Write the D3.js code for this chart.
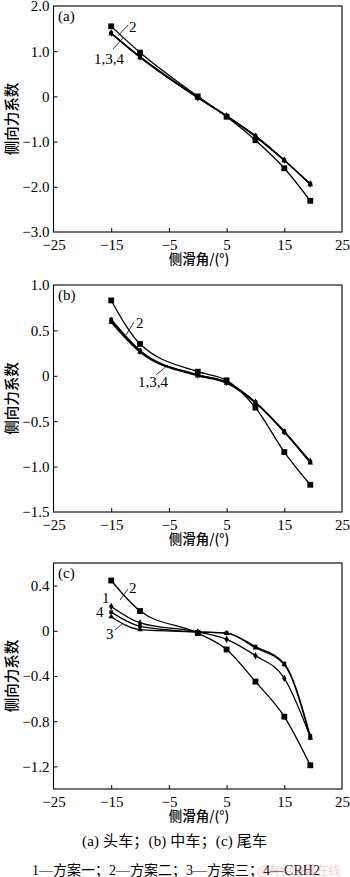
<!DOCTYPE html>
<html><head><meta charset="utf-8">
<script src="https://cdn.jsdelivr.net/npm/d3@7"></script>
<style>
html,body{margin:0;padding:0;background:#fff;}
svg{display:block;font-family:"Liberation Serif","Noto Sans CJK SC",serif;}
</style></head><body>
<svg id="c" width="350" height="877"></svg>
<script>
// ---- data ----
const angles = [-15, -10, 0, 5, 10, 15, 19.5];
const xTicks = [-25, -15, -5, 5, 15, 25];

const aS1 = [1.40, 0.87, -0.03, -0.43, -0.88, -1.41, -1.94];
const aS2 = [1.55, 0.97, 0.00, -0.45, -0.97, -1.59, -2.31];
const aS3 = [1.39, 0.86, -0.03, -0.44, -0.89, -1.42, -1.95];
const aS4 = [1.40, 0.88, -0.02, -0.43, -0.87, -1.41, -1.93];
const aTicks = [2.0, 1.0, 0, -1.0, -2.0, -3.0];

const bS1 = [0.61, 0.27, 0.01, -0.07, -0.29, -0.62, -0.94];
const bS2 = [0.83, 0.35, 0.045, -0.05, -0.35, -0.84, -1.20];
const bS3 = [0.59, 0.26, 0.00, -0.08, -0.30, -0.62, -0.96];
const bS4 = [0.62, 0.28, 0.01, -0.07, -0.29, -0.61, -0.95];
const bTicks = [1.0, 0.5, 0, -0.5, -1.0, -1.5];

const cS1 = [0.215, 0.07, -0.01, -0.075, -0.22, -0.42, -0.94];
const cS2 = [0.445, 0.175, -0.02, -0.165, -0.45, -0.76, -1.19];
const cS3 = [0.125, 0.01, -0.01, -0.02, -0.15, -0.30, -0.95];
const cS4 = [0.165, 0.04, -0.01, -0.02, -0.14, -0.29, -0.93];
const cTicks = [0.4, 0, -0.4, -0.8, -1.2];

const xTitle = "侧滑角/(°)";
const yTitle = "侧向力系数";
const caption1 = "(a) 头车；(b) 中车；(c) 尾车";
const caption2 = "1—方案一；2—方案二；3—方案三；4—CRH2";

const svg = d3.select("#c");
const fmtY = (d, dec) => d === 0 ? "0" : (d < 0 ? "−" : "") + Math.abs(d).toFixed(dec);
const fmtX = d => (d < 0 ? "−" : "") + Math.abs(d);

const symbols = {1: d3.symbolDiamond, 2: d3.symbolSquare, 3: d3.symbolTriangle, 4: d3.symbolSquare};
const symSize = {1: 16, 2: 34, 3: 14, 4: 14};

function panel(cfg) {
  const g = svg.append("g");
  const x = d3.scaleLinear().domain([-25, 25]).range([53.5, 342]);
  const y = d3.scaleLinear().domain(cfg.yDomain).range([cfg.bottom, cfg.top]);
  g.append("rect").attr("x", x(-25)).attr("y", cfg.top)
    .attr("width", x(25) - x(-25)).attr("height", cfg.bottom - cfg.top)
    .attr("fill", "none").attr("stroke", "#000").attr("stroke-width", 1.1);
  const xa = g.append("g").attr("transform", `translate(0,${cfg.bottom})`)
    .call(d3.axisBottom(x).tickValues(xTicks).tickSize(-4).tickPadding(7).tickFormat(fmtX));
  xa.select(".domain").remove();
  xa.selectAll(".tick line").filter(d => d === -25 || d === 25).remove();
  xa.selectAll("text").attr("font-size", 15).attr("font-family", "Liberation Serif").attr("fill", "#000");
  xa.selectAll(".tick line").attr("stroke", "#000");
  const ya = g.append("g").attr("transform", `translate(${x(-25)},0)`)
    .call(d3.axisLeft(y).tickValues(cfg.yTicks).tickSize(-4).tickPadding(4).tickFormat(d => fmtY(d, cfg.dec)));
  ya.select(".domain").remove();
  ya.selectAll(".tick line").filter(d => d === cfg.yDomain[0] || d === cfg.yDomain[1]).remove();
  ya.selectAll("text").attr("font-size", 15).attr("font-family", "Liberation Serif").attr("fill", "#000");
  ya.selectAll(".tick line").attr("stroke", "#000");
  g.append("text").attr("x", 199).attr("y", cfg.bottom + 32).attr("text-anchor", "middle")
    .attr("font-size", 13.5).attr("font-family", "Noto Sans CJK SC").attr("font-weight", 500).text(xTitle);
  const cy = (cfg.top + cfg.bottom) / 2;
  g.append("text").attr("transform", `translate(16.5,${cy}) rotate(-90)`).attr("text-anchor", "middle")
    .attr("font-size", 14.5).attr("font-family", "Noto Sans CJK SC").attr("font-weight", 500).text(yTitle);
  g.append("text").attr("x", 58).attr("y", cfg.top + 15).attr("font-size", 15).text(cfg.tag);
  const line = d3.line().x(d => x(d[0])).y(d => y(d[1])).curve(d3.curveMonotoneX);
  cfg.series.forEach(s => {
    const pts = angles.map((a, i) => [a, s.v[i]]);
    g.append("path").attr("d", line(pts)).attr("fill", "none").attr("stroke", "#000").attr("stroke-width", 1.3);
    g.selectAll(null).data(pts).enter().append("path")
      .attr("transform", d => `translate(${x(d[0])},${y(d[1])})`)
      .attr("d", d3.symbol().type(symbols[s.id]).size(symSize[s.id])).attr("fill", "#000");
  });
  cfg.notes.forEach(n => {
    if (n.line) g.append("line").attr("x1", n.line[0]).attr("y1", n.line[1]).attr("x2", n.line[2]).attr("y2", n.line[3])
      .attr("stroke", "#000").attr("stroke-width", 0.8);
    g.append("text").attr("x", n.x).attr("y", n.y).attr("font-size", 15).text(n.t);
  });
}

panel({tag: "(a)", top: 6, bottom: 232, yDomain: [-3, 2], yTicks: aTicks, dec: 1,
  series: [{id: 1, v: aS1}, {id: 3, v: aS3}, {id: 4, v: aS4}, {id: 2, v: aS2}],
  notes: [{t: "2", x: 129, y: 32, line: [118, 36, 128, 25]},
          {t: "1,3,4", x: 94, y: 64, line: [113, 49, 123, 38]}]});
panel({tag: "(b)", top: 285, bottom: 512, yDomain: [-1.5, 1], yTicks: bTicks, dec: 1,
  series: [{id: 1, v: bS1}, {id: 3, v: bS3}, {id: 4, v: bS4}, {id: 2, v: bS2}],
  notes: [{t: "2", x: 136, y: 328, line: [126, 335, 134, 322]},
          {t: "1,3,4", x: 138, y: 387, line: [156, 375, 168, 365]}]});
panel({tag: "(c)", top: 563, bottom: 789, yDomain: [-1.4, 0.6], yTicks: cTicks, dec: 1,
  series: [{id: 1, v: cS1}, {id: 3, v: cS3}, {id: 4, v: cS4}, {id: 2, v: cS2}],
  notes: [{t: "2", x: 129, y: 593, line: [120, 600, 128, 589]},
          {t: "1", x: 102, y: 603},
          {t: "4", x: 96, y: 617},
          {t: "3", x: 106, y: 639, line: [115, 630, 122, 624]}]});

svg.append("text").attr("x", 82).attr("y", 846)
  .attr("font-size", 15).attr("textLength", 185).attr("lengthAdjust", "spacing")
  .attr("font-family", "Liberation Serif, Noto Sans CJK SC").text(caption1);
svg.append("text").attr("x", 176).attr("y", 875).attr("text-anchor", "middle")
  .attr("font-size", 14).attr("font-family", "Liberation Serif, Noto Sans CJK SC").text(caption2);
svg.append("text").attr("x", 257).attr("y", 875).attr("font-size", 12)
  .attr("font-family", "Noto Sans CJK SC").attr("fill", "#e8a0a8").attr("opacity", 0.5).text("@有色金属在线");
</script>
</body></html>
